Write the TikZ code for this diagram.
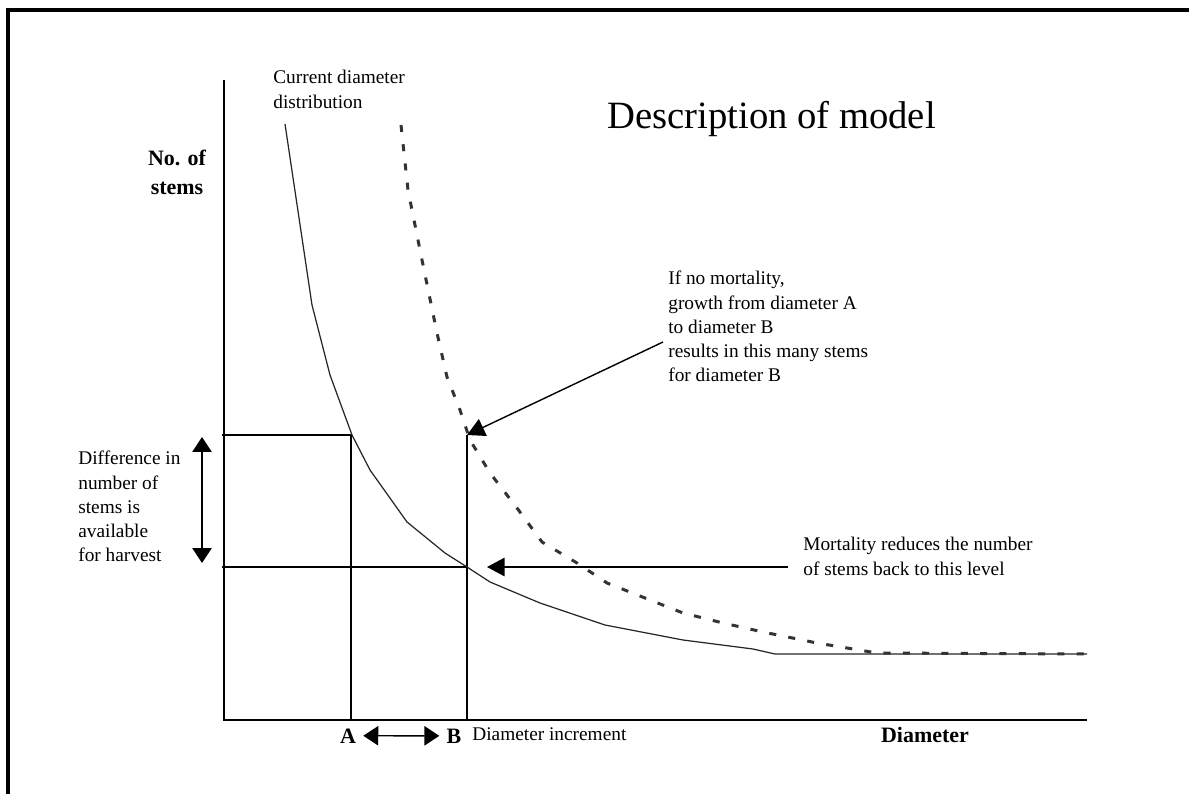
\documentclass[tikz,border=0pt]{standalone}
\usepackage{fontspec}
\setmainfont{Liberation Serif}
\usetikzlibrary{arrows.meta}
\tikzset{
  txt/.style={inner sep=0pt, align=left, font=\fontsize{11}{13.8}\selectfont},
  boldtxt/.style={inner sep=0pt, font=\fontsize{12.5}{16.5}\selectfont\bfseries},
  thinline/.style={line width=0.7pt},
  curline/.style={line width=0.7pt, black!85, line join=round},
  nomortline/.style={line width=1.7pt, black!80, dash pattern=on 4pt off 7pt},
  callout/.style={line width=0.8pt, -{Triangle[length=10pt,width=10.5pt]}},
  twoway/.style={line width=0.8pt, {Triangle[length=8.5pt,width=11pt]}-{Triangle[length=8.5pt,width=11pt]}},
}

\begin{document}
\begin{tikzpicture}[x=0.02cm, y=-0.02cm]
\useasboundingbox (0,0) rectangle (1189,794);
% Frame, only top and left edges
\draw[line width=2pt] (8,794) -- (8,10) -- (1189,10);

% Axes
\coordinate (O) at (224,720);
\coordinate (Ytop) at (224,80);
\coordinate (Xend) at (1087,720);
\draw[thinline] (Ytop) -- (O) -- (Xend);

% Diameters A and B
\coordinate (Hi) at (222,435);
\coordinate (Lo) at (222,567);
\coordinate (Atop) at (351,435);
\coordinate (Abot) at (351,720);
\coordinate (Btop) at (467,435);
\coordinate (Bbot) at (467,720);
\coordinate (Bcut) at (467,567);
\draw[thinline] (Hi) -- (Atop) -- (Abot);
\draw[thinline] (Lo) -- (Bcut);
\draw[thinline] (Btop) -- (Bbot);

% Current diameter distribution
\draw[curline] (285,124) -- (312,305) -- (330,375) -- (352,435) -- (370,470)
  -- (407,522) -- (445,553) -- (467,567) -- (490,582) -- (540,603)
  -- (605,625) -- (683,640) -- (753,649) -- (775,654) -- (1087,654);

% Distribution if no mortality
\draw[nomortline] (401,125) -- (408,190) -- (422,260) -- (437,333) -- (447,377)
  -- (460,410) -- (470,440) -- (490,473) -- (517,508) -- (542,542)
  -- (577,563) -- (607,583) -- (645,598) -- (683,613) -- (723,623)
  -- (763,632) -- (817,643) -- (877,653) -- (1087,654);

% Labels
\node[anchor=base west, inner sep=0pt, font=\fontsize{22}{26}\selectfont] (title) at (607,129) {Description of model};
\node[txt, anchor=north west] (cur) at (273,70) {Current diameter\\distribution};
\node[boldtxt, align=center, anchor=north] (ylab) at (177,150) {No. of\\stems};
\node[boldtxt, anchor=base] (xlab) at (925,742) {Diameter};
\node[txt, anchor=north west] (diff) at (78,451) {Difference in\\number of\\stems is\\available\\for harvest};
\node[txt, anchor=north west] (nomort) at (668,271) {If no mortality,\\growth from diameter A\\to diameter B\\results in this many stems\\for diameter B};
\node[txt, anchor=north west] (mort) at (803,537) {Mortality reduces the number\\of stems back to this level};
\node[boldtxt, inner sep=4pt, anchor=base] (lblA) at (348,743) {A};
\node[boldtxt, inner sep=4pt, anchor=base] (lblB) at (454,743) {B};
\node[txt, anchor=base west] (incr) at (472,740) {Diameter increment};

% Arrows
\coordinate (Hup) at (202,437);
\coordinate (Hdn) at (202,563);
\draw[twoway] (Hdn) -- (Hup);
\draw[twoway] (lblA.east) -- (lblB.west);
\coordinate (noteS) at (663,342);
\draw[callout] (noteS) -- (Btop);
\coordinate (mortS) at (788,567);
\coordinate (mortE) at (487,567);
\draw[callout] (mortS) -- (mortE);
\end{tikzpicture}
\end{document}
